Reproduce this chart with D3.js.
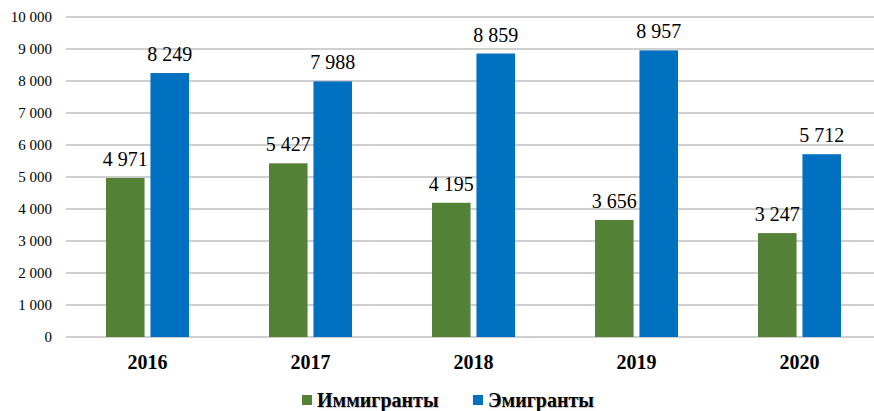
<!DOCTYPE html>
<html><head><meta charset="utf-8">
<script src="https://cdn.jsdelivr.net/npm/d3@7"></script>
<style>
html,body{margin:0;padding:0;background:#fff;}
svg{display:block;}
</style></head>
<body><svg id="c" width="874" height="411"></svg>
<script>
const years = ["2016","2017","2018","2019","2020"];
const immigrants = [4971, 5427, 4195, 3656, 3247];
const emigrants = [8249, 7988, 8859, 8957, 5712];
const seriesNames = ["Иммигранты", "Эмигранты"];
const seriesColors = ["#538135", "#0070C0"];
const yTicks = [0,1000,2000,3000,4000,5000,6000,7000,8000,9000,10000];

const FONT = "Liberation Serif";
const svg = d3.select("#c");
const loc = d3.formatLocale({decimal:",", thousands:"\u00a0", grouping:[3], currency:["",""]});
const fmt = loc.format(",d");

const x = d3.scaleBand().domain(years).range([66, 881]);
const y = d3.scaleLinear().domain([0, 10000]).range([337, 17]);
const inner = d3.scaleBand().domain([0,1]).range([-41.5, 41.5]).paddingInner(11/83);

svg.append("g").selectAll("line").data(yTicks).join("line")
  .attr("x1", 66).attr("x2", 874)
  .attr("y1", d => y(d)).attr("y2", d => y(d))
  .attr("stroke", "#bfbfbf").attr("stroke-width", 1.5);

svg.append("g").selectAll("text").data(yTicks).join("text")
  .attr("x", 52).attr("y", d => y(d)).attr("dy", "0.35em")
  .attr("font-family", FONT)
  .attr("text-anchor", "end").attr("font-size", 15).attr("fill", "#000")
  .text(d => fmt(d));

const series = [immigrants, emigrants];
series.forEach((vals, si) => {
  const g = svg.append("g");
  g.selectAll("rect").data(vals).join("rect")
    .attr("x", (d,i) => x(years[i]) + x.bandwidth()/2 + inner(si))
    .attr("width", inner.bandwidth())
    .attr("y", d => y(d))
    .attr("height", d => y(0) - y(d))
    .attr("fill", seriesColors[si]);
  g.selectAll("text").data(vals).join("text")
    .attr("x", (d,i) => x(years[i]) + x.bandwidth()/2 + inner(si) + inner.bandwidth()/2)
    .attr("y", d => y(d) - 12)
    .attr("font-family", FONT)
    .attr("text-anchor", "middle").attr("font-size", 20).attr("fill", "#000")
    .text(d => fmt(d));
});

svg.append("g").selectAll("text").data(years).join("text")
  .attr("x", d => x(d) + x.bandwidth()/2).attr("y", 369)
  .attr("font-family", FONT)
  .attr("text-anchor", "middle").attr("font-size", 20).attr("font-weight", "bold")
  .text(d => d);

const legX = [302, 473];
const lg = svg.append("g");
seriesNames.forEach((n, i) => {
  lg.append("rect").attr("x", legX[i]).attr("y", 395).attr("width", 10).attr("height", 10)
    .attr("fill", seriesColors[i]);
  lg.append("text").attr("x", legX[i] + 15).attr("y", 407)
    .attr("font-family", FONT)
    .attr("font-size", 20).attr("font-weight", "bold")
    .style("text-shadow", "1px 1px 1px rgba(0,0,0,0.25)")
    .text(n);
});
</script></body></html>
